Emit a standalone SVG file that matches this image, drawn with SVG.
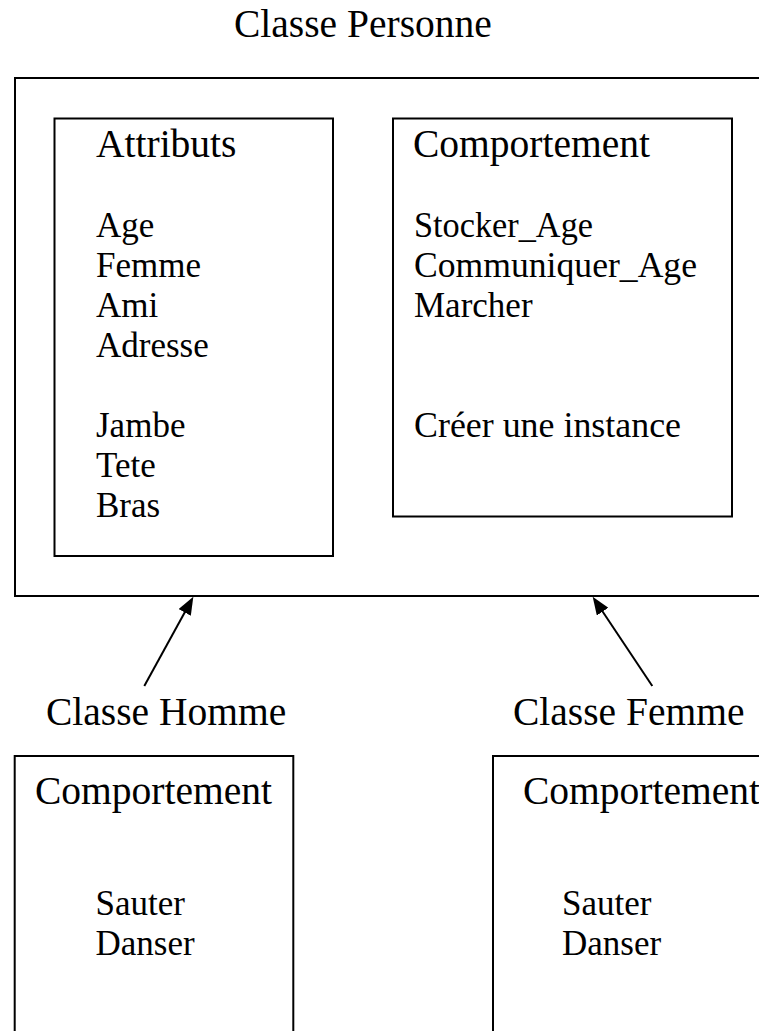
<svg xmlns="http://www.w3.org/2000/svg" width="759" height="1031" viewBox="0 0 759 1031">
<style>
.box{fill:none;stroke:#000;stroke-width:2}
.t{font-family:"Liberation Serif","Times New Roman",serif;font-size:39.5px;fill:#000}
.b{font-family:"Liberation Serif","Times New Roman",serif;font-size:35px;fill:#000}
.conn{stroke:#000;stroke-width:2;fill:none}
</style>
<defs>
<marker id="ah" markerUnits="userSpaceOnUse" markerWidth="18" markerHeight="14" refX="14" refY="7" orient="auto">
<path d="M0,0 L18,7 L0,14 z" fill="#000"/>
</marker>
</defs>
<rect width="759" height="1031" fill="#fff"/>
<g id="personne">
<text class="t" x="234" y="37">Classe Personne</text>
<rect class="box" x="15" y="78" width="760" height="518"/>
</g>
<g id="attributs">
<rect class="box" x="54.5" y="118.5" width="278.5" height="437.5"/>
<text class="t" x="96" y="157">Attributs</text>
<text class="b" x="96" y="237">Age</text>
<text class="b" x="96" y="277">Femme</text>
<text class="b" x="96" y="317">Ami</text>
<text class="b" x="96" y="357">Adresse</text>
<text class="b" x="96" y="437">Jambe</text>
<text class="b" x="96" y="477">Tete</text>
<text class="b" x="96" y="517">Bras</text>
</g>
<g id="comportement">
<rect class="box" x="393" y="118.5" width="339" height="398"/>
<text class="t" x="413" y="157">Comportement</text>
<text class="b" x="414" y="237" textLength="179" lengthAdjust="spacingAndGlyphs">Stocker_Age</text>
<text class="b" x="414" y="277" textLength="283" lengthAdjust="spacingAndGlyphs">Communiquer_Age</text>
<text class="b" x="414" y="317">Marcher</text>
<text class="b" x="414" y="437" textLength="267" lengthAdjust="spacingAndGlyphs">Créer une instance</text>
</g>
<g id="homme">
<text class="t" x="46" y="725">Classe Homme</text>
<rect class="box" x="14.7" y="756" width="278.6" height="300"/>
<text class="t" x="35" y="804">Comportement</text>
<text class="b" x="95.5" y="915">Sauter</text>
<text class="b" x="95.5" y="955">Danser</text>
</g>
<g id="femme">
<text class="t" x="513" y="725">Classe Femme</text>
<rect class="box" x="493" y="756" width="300" height="300"/>
<text class="t" x="523" y="804">Comportement</text>
<text class="b" x="562" y="915">Sauter</text>
<text class="b" x="562" y="955">Danser</text>
</g>
<g id="connectors">
<line class="conn" x1="144.3" y1="686" x2="191.4" y2="600.2" marker-end="url(#ah)"/>
<line class="conn" x1="652.3" y1="686" x2="594.9" y2="600" marker-end="url(#ah)"/>
</g>
</svg>
